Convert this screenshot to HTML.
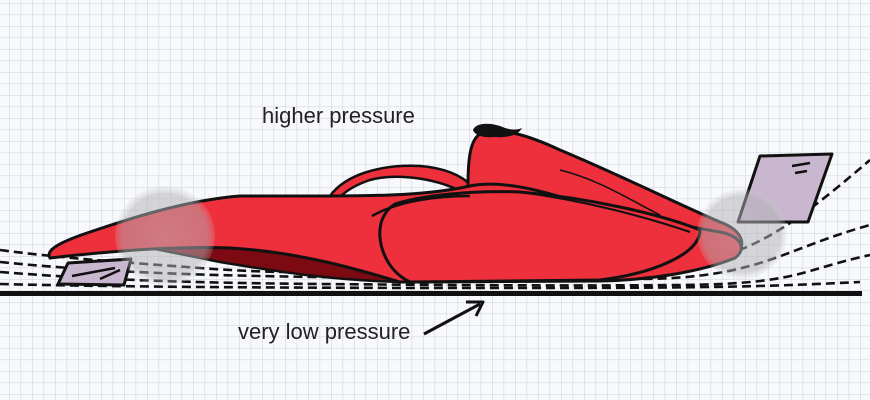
<!DOCTYPE html>
<html><head><meta charset="utf-8"><style>
html,body{margin:0;padding:0;background:#fff}
svg{display:block}
</style></head><body>
<svg width="870" height="400" viewBox="0 0 870 400" xmlns="http://www.w3.org/2000/svg">
<defs>
<pattern id="g" width="11.5" height="11.5" patternUnits="userSpaceOnUse" x="9" y="3">
<rect width="11.5" height="11.5" fill="#f8f9fc"/>
<path d="M0 0H11.5M0 0V11.5" stroke="#d6d9e0" stroke-width="1.3" fill="none"/>
</pattern>
<radialGradient id="w" cx="0.5" cy="0.5" r="0.5">
<stop offset="0" stop-color="#b8b8bc" stop-opacity="0.55"/>
<stop offset="0.85" stop-color="#b0b0b5" stop-opacity="0.5"/>
<stop offset="1" stop-color="#ccc" stop-opacity="0.15"/>
</radialGradient>
</defs>
<rect width="870" height="400" fill="url(#g)"/>

<!-- streamlines -->
<g fill="none" stroke="#111" stroke-width="2.6" stroke-dasharray="9 5">
<path d="M0 250 C60 258 120 262 200 268 S320 272 420 272 S640 275 700 262 S800 220 870 160"/>
<path d="M0 262 C80 270 160 274 260 276 S520 280 640 279 S780 250 870 225"/>
<path d="M0 272 C100 280 200 283 320 284 S560 286 680 285 S800 270 870 255"/>
<path d="M0 284 C120 287 300 288 500 288 S760 287 860 282"/>
</g>

<!-- front wing -->
<path d="M68 263 L131 259 L124 285 L58 284 Z" fill="#c9b7cf" stroke="#111" stroke-width="3" stroke-linejoin="round"/>
<path d="M72 276 L115 268 M100 279 L120 270" stroke="#111" stroke-width="2.5"/>

<!-- rear wing -->
<path d="M760 156 L832 154 L808 222 L738 222 Z" fill="#c9b7cf" stroke="#111" stroke-width="3" stroke-linejoin="round"/>
<path d="M792 166 L810 163 M795 173 L807 171" stroke="#111" stroke-width="2.5"/>

<!-- dark underside -->
<path d="M150 248 C260 246 360 252 390 262 L400 282 C330 280 280 272 220 262 Z" fill="#7d0a12" stroke="#111" stroke-width="2.5"/>

<!-- halo -->
<path d="M330 196 C345 175 380 164 420 166 C445 168 462 176 472 186 L462 192 C440 180 400 172 370 180 C355 185 345 192 340 197 Z" fill="#ee2f3c" stroke="#111" stroke-width="2.5"/>

<!-- engine cover -->
<path d="M468 186 C468 160 470 140 480 134 C500 126 530 136 560 150 C620 175 680 205 720 222 C742 230 748 245 735 256 L700 268 L470 268 Z" fill="#ee2f3c" stroke="#111" stroke-width="3"/>

<!-- main body -->
<path d="M50 258 C45 250 60 242 90 232 C140 215 190 200 240 196 L330 196 C380 196 430 195 470 186 C500 180 540 190 570 200 C620 215 680 225 720 232 C740 236 748 248 735 258 C700 272 650 280 600 281 L400 282 C360 270 300 252 230 248 C180 246 120 250 50 258 Z" fill="#ee2f3c" stroke="#111" stroke-width="3"/>

<!-- sidepod -->
<path d="M395 204 C420 196 470 190 520 192 C590 198 660 214 700 230 C700 255 650 274 600 280 L410 282 C385 270 375 240 382 220 C385 212 390 207 395 204 Z" fill="#ee2f3c" stroke="#111" stroke-width="3"/>
<path d="M372 216 C400 200 440 196 470 196" fill="none" stroke="#111" stroke-width="2.5"/>
<path d="M520 192 C580 200 640 215 690 232" fill="none" stroke="#111" stroke-width="2"/>
<path d="M560 170 C600 180 630 200 660 215" fill="none" stroke="#111" stroke-width="1.5"/>

<!-- airbox fin -->
<path d="M473 130 C476 122 492 122 505 128 C512 130 518 130 522 128 C518 136 505 138 495 137 C485 138 475 136 473 130 Z" fill="#111"/>

<!-- wheels (translucent, on top) -->
<circle cx="165" cy="236" r="50" fill="url(#w)"/>
<circle cx="742" cy="234" r="45" fill="url(#w)"/>

<!-- ground -->
<rect x="0" y="291" width="862" height="5" fill="#111"/>

<!-- texts -->
<text x="262" y="123" font-family="Liberation Sans, sans-serif" font-size="22" fill="#222">higher pressure</text>
<text x="238" y="339" font-family="Liberation Sans, sans-serif" font-size="22" fill="#222">very low pressure</text>
<path d="M424 334 L480 304" stroke="#111" stroke-width="3" fill="none"/>
<path d="M466 302 L483 302 L476 316" stroke="#111" stroke-width="3" fill="none" stroke-linejoin="round"/>
</svg>
</body></html>
